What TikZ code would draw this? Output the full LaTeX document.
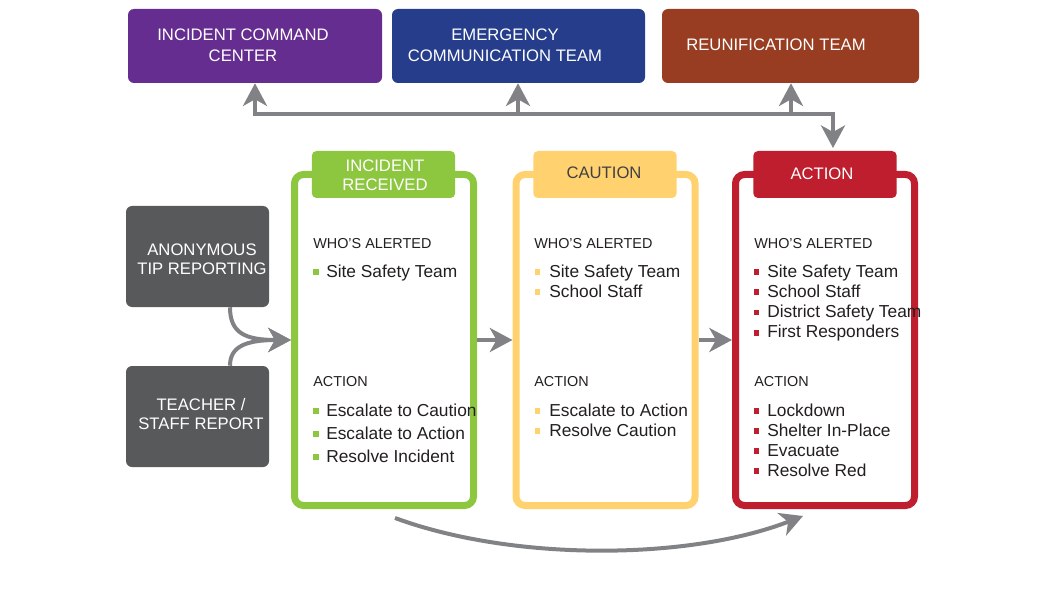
\documentclass[tikz,border=0pt]{standalone}
\usepackage{fontspec}
\setmainfont{Liberation Sans}
\usetikzlibrary{arrows.meta,calc}
\definecolor{cpurple}{HTML}{662D91}
\definecolor{cblue}{HTML}{253D8A}
\definecolor{cbrown}{HTML}{983D22}
\definecolor{cgray}{HTML}{58595B}
\definecolor{cgreen}{HTML}{8DC63F}
\definecolor{cyellow}{HTML}{FFD26F}
\definecolor{cred}{HTML}{BE1E2D}
\definecolor{carrow}{HTML}{808285}
\definecolor{ctext}{HTML}{231F20}
\definecolor{cdark}{HTML}{414042}
\begin{document}
\begin{tikzpicture}[x=0.75pt,y=-0.75pt,
  topbox/.style={rounded corners=4.5pt, minimum height=55.5pt, inner sep=0pt},
  srcbox/.style={fill=cgray, rounded corners=4.5pt, minimum width=107.25pt, minimum height=75.75pt, inner sep=0pt},
  bigtxt/.style={text=white, align=center, font=\fontsize{12.5}{15.75}\selectfont, inner sep=0pt},
  srctxt/.style={text=white, align=center, font=\fontsize{12.5}{14.25}\selectfont, inner sep=0pt},
  stage/.style={draw, fill=white, line width=5.25pt, rounded corners=6.75pt, minimum width=134.25pt, minimum height=248.25pt, inner sep=0pt},
  tab/.style={rounded corners=3.5pt, minimum height=35.25pt, minimum width=107.5pt, inner sep=0pt},
  hdr/.style={anchor=base west, text=ctext, font=\fontsize{10.8}{13}\selectfont, inner sep=0pt},
  itm/.style={anchor=base west, text=ctext, font=\fontsize{13}{16}\selectfont, inner sep=0pt},
  bul/.style={minimum size=4.3pt, inner sep=0pt, outer sep=0pt},
  conn/.style={draw=carrow, line width=3pt},
  tip/.style={-{Stealth[length=17pt,width=18pt,inset=5pt]}},
]
\useasboundingbox (0,0) rectangle (1060,599);

% top boxes
\node[topbox, fill=cpurple, minimum width=190.5pt] (icc) at (255,46) {};
\node[topbox, fill=cblue, minimum width=189.75pt] (ect) at (518.5,46) {};
\node[topbox, fill=cbrown, minimum width=192.75pt] (reu) at (790.5,46) {};
\node[bigtxt] (iccT) at (243,45.5) {INCIDENT COMMAND\\CENTER};
\node[bigtxt] (ectT) at (505,45.5) {EMERGENCY\\COMMUNICATION TEAM};
\node[bigtxt] (reuT) at (776,45) {REUNIFICATION TEAM};

% source boxes
\node[srcbox] (anon) at (197.5,256.5) {};
\node[srcbox] (teach) at (197.5,416.5) {};
\node[srctxt] (anonT) at (202,259.5) {ANONYMOUS\\TIP REPORTING};
\node[srctxt] (teachT) at (201,414.5) {TEACHER /\\STAFF REPORT};

% stage boxes
\node[stage, draw=cgreen] (green) at (384,340) {};
\node[stage, draw=cyellow] (yellow) at (605.5,340) {};
\node[stage, draw=cred] (red) at (825,340) {};
\node[tab, fill=cgreen] (gtab) at (383.5,174.5) {};
\node[tab, fill=cyellow] (ytab) at (605,174.5) {};
\node[tab, fill=cred] (rtab) at (825,174.5) {};
\node[bigtxt, font=\fontsize{12.5}{14.25}\selectfont] (gtabT) at (385,175.5) {INCIDENT\\RECEIVED};
\node[bigtxt, text=cdark] (ytabT) at (604,173) {CAUTION};
\node[bigtxt] (rtabT) at (822,174) {ACTION};

% green content
\node[hdr] (gh1) at (313,248) {WHO’S ALERTED};
\node[hdr] (gh2) at (313,386) {ACTION};
\foreach \t [count=\i] in {Site Safety Team}{
  \node[bul, fill=cgreen] (gwb\i) at (316,{272+(\i-1)*20.3}) {};
  \node[itm] (gw\i) at (326,{277+(\i-1)*20.3}) {\t};}
\foreach \t [count=\i] in {Escalate to Caution, Escalate to Action, Resolve Incident}{
  \node[bul, fill=cgreen] (gab\i) at (316,{411+(\i-1)*23}) {};
  \node[itm] (ga\i) at (326,{416+(\i-1)*23}) {\t};}

% yellow content
\node[hdr] (yh1) at (534,248) {WHO’S ALERTED};
\node[hdr] (yh2) at (534,386) {ACTION};
\foreach \t [count=\i] in {Site Safety Team, School Staff}{
  \node[bul, fill=cyellow] (ywb\i) at (537.5,{272+(\i-1)*20.3}) {};
  \node[itm] (yw\i) at (549,{277+(\i-1)*20.3}) {\t};}
\foreach \t [count=\i] in {Escalate to Action, Resolve Caution}{
  \node[bul, fill=cyellow] (yab\i) at (537.5,{411+(\i-1)*20}) {};
  \node[itm] (ya\i) at (549,{416+(\i-1)*20}) {\t};}

% red content
\node[hdr] (rh1) at (754,248) {WHO’S ALERTED};
\node[hdr] (rh2) at (754,386) {ACTION};
\foreach \t [count=\i] in {Site Safety Team, School Staff, District Safety Team, First Responders}{
  \node[bul, fill=cred] (rwb\i) at (756.5,{272+(\i-1)*20.3}) {};
  \node[itm] (rw\i) at (767,{277+(\i-1)*20.3}) {\t};}
\foreach \t [count=\i] in {Lockdown, Shelter In-Place, Evacuate, Resolve Red}{
  \node[bul, fill=cred] (rab\i) at (756.5,{411+(\i-1)*20}) {};
  \node[itm] (ra\i) at (767,{416+(\i-1)*20}) {\t};}

% top connectors
\coordinate (h1) at (icc.south |- 0,114.5);
\coordinate (h2) at (518,114.5);
\coordinate (h3) at (791,114.5);
\coordinate (h4) at (833,114.5);
\draw[conn, {Stealth[length=17pt,width=18pt,inset=5pt]}-{Stealth[length=17pt,width=18pt,inset=5pt]}, shorten >=2pt]
  (icc.south) -- (h1) -- (h4) -- (h4 |- rtab.north);
\draw[conn, tip] (h2) -- (h2 |- ect.south);
\draw[conn, tip] (h3) -- (h3 |- reu.south);

% inputs
\draw[conn, tip] ($(anon.south)+(32.5,0)$) .. controls (230,333) and (245,340) .. (green.west);
\draw[conn, tip] ($(teach.north)+(32.5,0)$) .. controls (230,347) and (245,340) .. (green.west);

% stage arrows
\draw[conn, tip] (green.east) -- (yellow.west);
\draw[conn, tip] (yellow.east) -- (red.west);

% bottom arrow
\draw[conn, tip] ($(green.south)+(11,9)$) .. controls (515,562) and (690,560) .. ($(red.south)+(-22,7)$);
\end{tikzpicture}
\end{document}
